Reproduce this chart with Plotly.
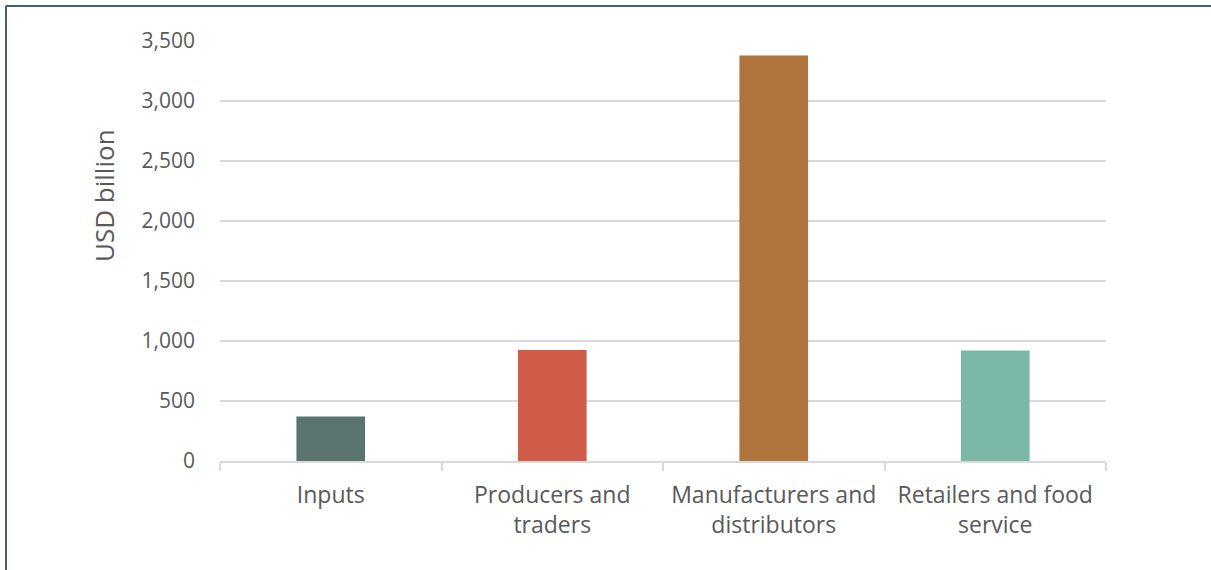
"""Bar chart of value by food system stage."""

import plotly.graph_objects as go

# data
CATEGORIES = [
    "Inputs",
    "Producers and<br>traders",
    "Manufacturers and<br>distributors",
    "Retailers and food<br>service",
]
VALUES = [370, 925, 3380, 920]
BAR_COLORS = ["#5A7570", "#CE5C48", "#B0743D", "#7BB8A7"]
Y_TICKS = [0, 500, 1000, 1500, 2000, 2500, 3000, 3500]

FONT = "Open Sans"
TEXT_COLOR = "#595959"
GRID_COLOR = "#D9D9D9"
BORDER_COLOR = "#3E6173"

fig = go.Figure()

fig.add_trace(
    go.Bar(
        x=CATEGORIES,
        y=VALUES,
        marker_color=BAR_COLORS,
        marker_line_width=0,
        width=0.31,
        hoverinfo="x+y",
    )
)

# plot area in pixels: left 220, right 1106, top 41, bottom 461
L, R, T, B = 220, 105, 41, 109
W, H = 1211, 570
pw, ph = W - L - R, H - T - B


def px_x(x):
    return (x - L) / pw


def px_y(y):
    return (H - B - y) / ph


# frame lines along top and left edge of the image
fig.add_shape(type="line", xref="paper", yref="paper",
              x0=px_x(6), x1=px_x(1220), y0=px_y(6), y1=px_y(6),
              line=dict(color=BORDER_COLOR, width=2))
fig.add_shape(type="line", xref="paper", yref="paper",
              x0=px_x(6), x1=px_x(6), y0=px_y(6), y1=px_y(580),
              line=dict(color=BORDER_COLOR, width=2))

# y title sits above the middle of the axis, so place it by hand
fig.add_annotation(
    text="USD billion",
    xref="paper", yref="paper",
    x=px_x(104), y=px_y(196),
    xanchor="center", yanchor="middle",
    textangle=-90,
    showarrow=False,
    font=dict(family=FONT, size=26, color=TEXT_COLOR),
)

fig.update_layout(
    width=W,
    height=H,
    margin=dict(l=L, r=R, t=T, b=B, autoexpand=False),
    paper_bgcolor="white",
    plot_bgcolor="white",
    showlegend=False,
    font=dict(family=FONT, size=20, color=TEXT_COLOR),
    xaxis=dict(
        type="category",
        tickson="boundaries",
        ticks="outside",
        ticklen=8,
        tickwidth=2,
        tickcolor=GRID_COLOR,
        showline=True,
        linecolor=GRID_COLOR,
        linewidth=2,
        showgrid=False,
        ticklabelstandoff=12,
        tickfont=dict(size=23, color=TEXT_COLOR),
    ),
    yaxis=dict(
        range=[0, 3500],
        tickvals=Y_TICKS,
        tickformat=",d",
        showgrid=True,
        gridcolor=GRID_COLOR,
        gridwidth=1.5,
        zeroline=False,
        showline=False,
        ticks="",
        ticklabelstandoff=24,
        tickfont=dict(size=21, color=TEXT_COLOR),
    ),
)

# drop the default page margin so the figure starts at the window corner
fig.write_html(
    "out.html",
    config={"displayModeBar": False},
    post_script="document.body.style.margin='0';",
)
